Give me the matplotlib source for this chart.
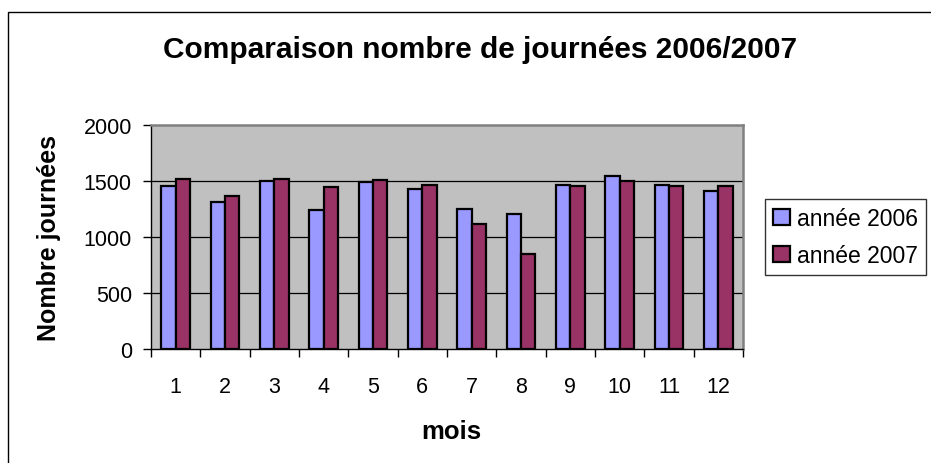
import matplotlib
matplotlib.use("Agg")
import matplotlib.pyplot as plt
import numpy as np
from matplotlib.patches import Rectangle, Patch

months = ["1", "2", "3", "4", "5", "6", "7", "8", "9", "10", "11", "12"]
annee_2006 = [1459, 1310, 1503, 1245, 1488, 1432, 1251, 1203, 1468, 1548, 1468, 1408]
annee_2007 = [1515, 1364, 1515, 1447, 1512, 1468, 1120, 844, 1453, 1503, 1459, 1459]
yticks = [0, 500, 1000, 1500, 2000]

plt.rcParams['font.family'] = ['Liberation Sans', 'DejaVu Sans']
FS = 15.5
LFS = 16.5

W, H = 931, 464
fig = plt.figure(figsize=(W / 100, H / 100), dpi=100)
fig.patch.set_facecolor("white")

# outer chart frame
fig.patches.append(Rectangle((8 / W, -0.1), 1.2, 1 - 13 / H + 0.1, transform=fig.transFigure,
                             fill=False, edgecolor="#000000", linewidth=1.0))

ax = fig.add_axes([151 / W, 1 - 350 / H, (743 - 151) / W, (350 - 126) / H])
ax.set_facecolor("#C0C0C0")

x = np.arange(1, len(months) + 1)
bw = 0.29
ax.bar(x - bw / 2, annee_2006, bw, color="#9999FF", edgecolor="black", linewidth=1.6,
       label="année 2006", zorder=3)
ax.bar(x + bw / 2, annee_2007, bw, color="#993366", edgecolor="black", linewidth=1.6,
       label="année 2007", zorder=3)

ax.set_xlim(0.5, 12.5)
ax.set_ylim(0, 2000)
ax.set_yticks(yticks)
ax.set_yticklabels([str(v) for v in yticks], fontsize=FS)
for v in yticks[1:-1]:
    ax.axhline(v, color="black", linewidth=0.9, zorder=1)

ax.set_xticks(x)
ax.set_xticklabels(months, fontsize=FS)
ax.set_xticks(np.arange(0.5, 13.0, 1.0), minor=True)
ax.tick_params(axis="x", which="major", length=0, pad=19.5)
ax.tick_params(axis="x", which="minor", length=5.5, width=1.0, direction="out", color="black")
ax.tick_params(axis="y", length=5.8, width=1.0, direction="out", pad=8, color="black")

for s in ["left", "bottom"]:
    ax.spines[s].set_color("black")
    ax.spines[s].set_linewidth(1.0)
for s in ["top", "right"]:
    ax.spines[s].set_color("#808080")
    ax.spines[s].set_linewidth(1.8)

fig.text(480 / W, 1 - 50 / H, "Comparaison nombre de journées 2006/2007", ha="center", va="center",
         fontsize=21.5, fontweight="bold")
fig.text(49 / W, 1 - 238 / H, "Nombre journées", rotation=90, ha="center", va="center",
         fontsize=18, fontweight="bold")
fig.text(451 / W, 1 - 432 / H, "mois", ha="center", va="center", fontsize=18.5, fontweight="bold")

handles = [Patch(facecolor="#9999FF", edgecolor="black", linewidth=1.6, label="année 2006"),
           Patch(facecolor="#993366", edgecolor="black", linewidth=1.6, label="année 2007")]
leg = fig.legend(handles=handles, loc="upper left", bbox_to_anchor=(765 / W, 1 - 200 / H),
                 bbox_transform=fig.transFigure, fontsize=LFS, frameon=True, fancybox=False,
                 edgecolor="black", handlelength=0.73, handleheight=0.73, handletextpad=0.33,
                 labelspacing=0.62, borderpad=0.34, borderaxespad=0)
leg.get_frame().set_linewidth(1.0)

fig.savefig("out.png", dpi=100)
